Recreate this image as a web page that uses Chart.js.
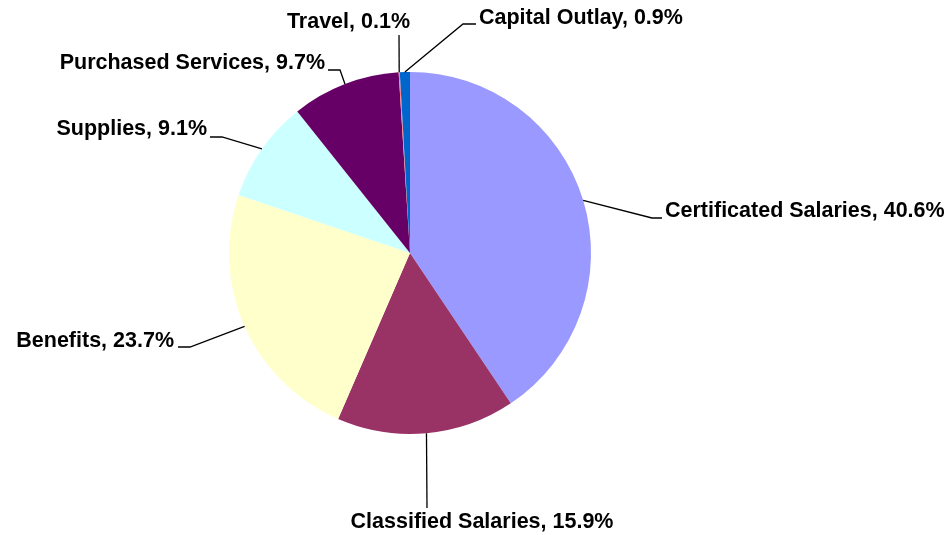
<!DOCTYPE html>
<html>
<head>
<meta charset="utf-8">
<script src="https://cdn.jsdelivr.net/npm/chart.js@4.4.1/dist/chart.umd.min.js"></script>
<style>
  html, body { margin: 0; padding: 0; background: #ffffff; }
  #wrap { width: 949px; height: 535px; }
</style>
</head>
<body>
<div id="wrap"><canvas id="pie" width="949" height="535"></canvas></div>
<script>
// chart values
var categories = ["Certificated Salaries", "Classified Salaries", "Benefits", "Supplies",
  "Purchased Services", "Travel", "Capital Outlay"];
var shares = [40.6, 15.9, 23.7, 9.1, 9.7, 0.1, 0.9];
var sliceColors = ["#9999FF", "#993366", "#FFFFCC", "#CCFFFF", "#660066", "#FF8080", "#0066CC"];

// where each data label sits, and the elbow of its leader line
var labelSpots = [
  { tx: 665, ty: 211, align: "left",   elbow: [[652, 218], [662, 218]] },
  { tx: 482, ty: 522, align: "center", elbow: [[427, 508]] },
  { tx: 174, ty: 341, align: "right",  elbow: [[190, 347], [178, 347]] },
  { tx: 207, ty: 129, align: "right",  elbow: [[222, 137], [210, 137]] },
  { tx: 325, ty: 63,  align: "right",  elbow: [[340, 70], [328, 70]] },
  { tx: 410, ty: 22,  align: "right",  elbow: [[399, 35]] },
  { tx: 479, ty: 18,  align: "left",   elbow: [[463, 24], [476, 24]] }
];

var leaderLabels = {
  id: "leaderLabels",
  afterDatasetsDraw: function (chart) {
    var ctx = chart.ctx;
    var arcs = chart.getDatasetMeta(0).data;
    ctx.save();
    ctx.strokeStyle = "#000000";
    ctx.lineWidth = 1.3;
    ctx.fillStyle = "#000000";
    ctx.font = "bold 21.5px 'Liberation Sans', Arial, sans-serif";
    ctx.textBaseline = "middle";
    for (var i = 0; i < arcs.length; i++) {
      var arc = arcs[i];
      var mid = (arc.startAngle + arc.endAngle) / 2;
      var sx = arc.x + arc.outerRadius * Math.cos(mid);
      var sy = arc.y + arc.outerRadius * Math.sin(mid);
      var spot = labelSpots[i];
      ctx.beginPath();
      ctx.moveTo(sx, sy);
      for (var j = 0; j < spot.elbow.length; j++) {
        ctx.lineTo(spot.elbow[j][0], spot.elbow[j][1]);
      }
      ctx.stroke();
      ctx.textAlign = spot.align;
      ctx.fillText(categories[i] + ", " + shares[i].toFixed(1) + "%", spot.tx, spot.ty);
    }
    ctx.restore();
  }
};

var chart = new Chart(document.getElementById("pie"), {
  type: "pie",
  data: {
    labels: categories,
    datasets: [
      {
        data: shares,
        backgroundColor: sliceColors,
        borderWidth: 0
      }
    ]
  },
  options: {
    responsive: false,
    animation: false,
    events: [],
    layout: {
      padding: { left: 229, right: 358, top: 72, bottom: 101 }
    },
    plugins: {
      legend: { display: false },
      tooltip: { enabled: false }
    }
  },
  plugins: [leaderLabels]
});
</script>
</body>
</html>
